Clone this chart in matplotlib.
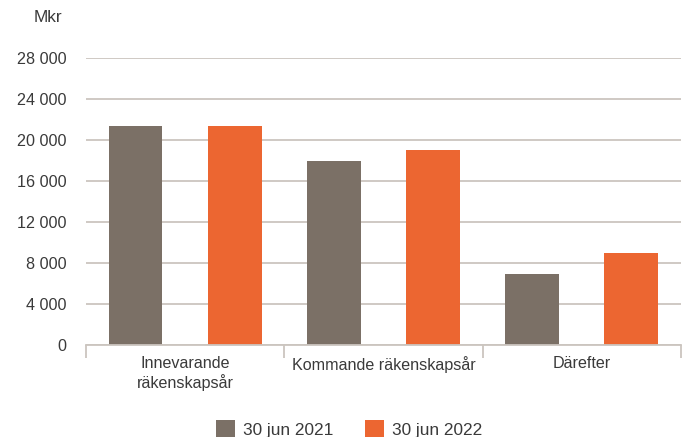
import matplotlib.pyplot as plt
from matplotlib.patches import Patch
import numpy as np

plt.rcParams['font.family'] = ['Liberation Sans', 'DejaVu Sans']

kategorier = ['Innevarande\nräkenskapsår', 'Kommande räkenskapsår', 'Därefter']
serier = ['30 jun 2021', '30 jun 2022']
varden_2021 = [21400, 18000, 7000]
varden_2022 = [21400, 19100, 9000]
y_ticks = [0, 4000, 8000, 12000, 16000, 20000, 24000, 28000]

GRA = '#7b7066'
ORANGE = '#ec6631'
LINJE = '#cbc5bf'
TEXT = '#3a3a3a'


def formatera(v):
    return f'{v:,}'.replace(',', ' ')


def main():
    fig = plt.figure(figsize=(6.82, 4.37), dpi=100)
    ax = fig.add_axes([0.126, 0.2098, 0.8725, 0.6568])

    x = np.arange(len(kategorier))
    bredd = 0.272
    ax.bar(x - 0.25, varden_2021, bredd, color=GRA, zorder=3)
    ax.bar(x + 0.25, varden_2022, bredd, color=ORANGE, zorder=3)

    ax.set_xlim(-0.5, len(kategorier) - 0.5)
    ax.set_ylim(0, 28000)

    # rutnät
    ax.set_yticks(y_ticks)
    ax.set_yticklabels([formatera(v) for v in y_ticks])
    ax.yaxis.grid(True, color=LINJE, linewidth=1.3, zorder=0)
    ax.tick_params(axis='y', length=0, pad=14, labelsize=11.6, labelcolor=TEXT)

    for s in ['top', 'right', 'left']:
        ax.spines[s].set_visible(False)
    ax.spines['bottom'].set_color(LINJE)
    ax.spines['bottom'].set_linewidth(1.3)
    ax.spines['bottom'].set_zorder(4)

    # avdelare mellan grupper
    ax.set_xticks(np.arange(-0.5, len(kategorier), 1.0))
    ax.set_xticklabels([])
    ax.tick_params(axis='x', which='major', length=9, width=1.3, color=LINJE)
    ax.set_xticks(x, minor=True)
    ax.set_xticklabels(kategorier, minor=True)
    ax.tick_params(axis='x', which='minor', length=0, pad=8, labelsize=11.6, labelcolor=TEXT)

    fig.text(62 / 682, 1 - 18 / 437, 'Mkr', ha='right', va='center', fontsize=12.4, color=TEXT)

    handtag = [Patch(facecolor=GRA, label=serier[0]), Patch(facecolor=ORANGE, label=serier[1])]
    fig.legend(handles=handtag, loc='center', bbox_to_anchor=(349 / 682, 1 - 429 / 437),
               ncol=2, frameon=False, fontsize=12.4, handlelength=1.1, handleheight=1.1,
               handletextpad=0.5, columnspacing=1.8, labelcolor=TEXT)

    fig.savefig('out.png', dpi=100)
    plt.close(fig)


if __name__ == '__main__':
    main()
